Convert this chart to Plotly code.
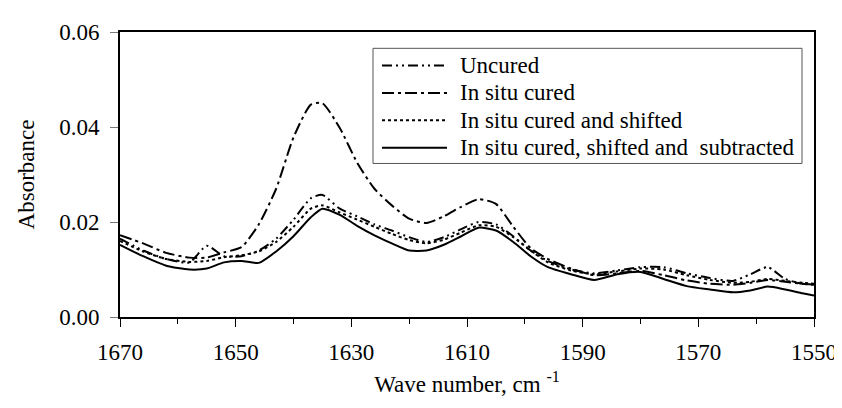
import plotly.graph_objects as go

# wave numbers (cm-1) shared by all spectra
wave_number = [1670, 1666, 1662, 1658, 1655, 1652, 1649, 1646, 1643, 1640,
               1637, 1635, 1632, 1629, 1626, 1623, 1620, 1617, 1614, 1611,
               1608, 1605, 1602, 1599, 1596, 1592, 1588, 1584, 1580, 1576,
               1572, 1568, 1564, 1561, 1558, 1555, 1552, 1550]

uncured = [0.0165, 0.0140, 0.0122, 0.0115, 0.0150, 0.0128, 0.0128, 0.0140, 0.0165, 0.0205,
           0.0250, 0.0257, 0.0228, 0.0212, 0.0195, 0.0182, 0.0168, 0.0158, 0.0168, 0.0185,
           0.0200, 0.0195, 0.0170, 0.0140, 0.0118, 0.0100, 0.0092, 0.0098, 0.0105, 0.0105,
           0.0092, 0.0082, 0.0076, 0.0090, 0.0105, 0.0080, 0.0070, 0.0068]

in_situ_cured = [0.0172, 0.0155, 0.0135, 0.0125, 0.0125, 0.0136, 0.0147, 0.0195, 0.0270, 0.0378,
                 0.0447, 0.0450, 0.0398, 0.0325, 0.0270, 0.0235, 0.0207, 0.0198, 0.0212, 0.0232,
                 0.0248, 0.0238, 0.0190, 0.0145, 0.0122, 0.0102, 0.0088, 0.0092, 0.0097, 0.0088,
                 0.0077, 0.0070, 0.0068, 0.0072, 0.0078, 0.0074, 0.0070, 0.0068]

cured_shifted = [0.0160, 0.0138, 0.0122, 0.0116, 0.0118, 0.0126, 0.0130, 0.0138, 0.0158, 0.0190,
                 0.0228, 0.0235, 0.0220, 0.0205, 0.0190, 0.0175, 0.0162, 0.0155, 0.0163, 0.0178,
                 0.0193, 0.0190, 0.0168, 0.0140, 0.0115, 0.0098, 0.0090, 0.0096, 0.0102, 0.0100,
                 0.0088, 0.0078, 0.0072, 0.0074, 0.0080, 0.0076, 0.0072, 0.0070]

cured_shifted_subtracted = [0.0152, 0.0128, 0.0108, 0.0100, 0.0102, 0.0115, 0.0118, 0.0114, 0.0138, 0.0170,
                            0.0210, 0.0228, 0.0215, 0.0192, 0.0172, 0.0155, 0.0140, 0.0140, 0.0152, 0.0170,
                            0.0188, 0.0182, 0.0158, 0.0128, 0.0105, 0.0090, 0.0078, 0.0090, 0.0095, 0.0080,
                            0.0065, 0.0058, 0.0052, 0.0056, 0.0064, 0.0058, 0.0050, 0.0045]

series_names = ['Uncured', 'In situ cured', 'In situ cured and shifted',
                'In situ cured, shifted and  subtracted']
series_values = [uncured, in_situ_cured, cured_shifted, cured_shifted_subtracted]
dashes = ['10px,4px,2px,4px,2px,4px', '12px,4px,3px,4px', '3px,3px', 'solid']

FONT = 'Liberation Serif, Times New Roman, serif'

# plot area in page pixels (body keeps its default 8px margin)
PX0, PX1, PY0, PY1 = 120, 814, 20, 317


def paper_x(px):
    return (px - PX0) / (PX1 - PX0)


def paper_y(py):
    return (PY1 - py) / (PY1 - PY0)


fig = go.Figure()
for name, vals, dash in zip(series_names, series_values, dashes):
    fig.add_trace(go.Scatter(
        x=wave_number, y=vals, name=name, mode='lines', showlegend=False,
        line=dict(color='black', width=2, dash=dash, shape='spline', smoothing=0.6),
    ))

# legend drawn by hand so that the sample lines and row spacing match
shapes = [dict(type='rect', xref='paper', yref='paper', layer='above',
               x0=paper_x(373), x1=paper_x(802), y0=paper_y(157), y1=paper_y(37),
               line=dict(color='#555', width=1), fillcolor='white')]
annotations = []
for i, (name, dash) in enumerate(zip(series_names, dashes)):
    row_y = paper_y(55 + i * 28.5)
    shapes.append(dict(type='line', xref='paper', yref='paper', layer='above',
                       x0=paper_x(382), x1=paper_x(447), y0=row_y, y1=row_y,
                       line=dict(color='black', width=2, dash=dash)))
    annotations.append(dict(text=name, xref='paper', yref='paper', showarrow=False,
                            x=paper_x(458), y=row_y, xanchor='left', yanchor='middle',
                            font=dict(family=FONT, size=23, color='black')))

fig.update_layout(
    width=842, height=408,
    margin=dict(l=PX0 - 8, r=842 - PX1 + 8, t=PY0 - 8, b=408 - PY1 + 8),
    plot_bgcolor='white', paper_bgcolor='white',
    font=dict(family=FONT, size=23, color='black'),
    shapes=shapes, annotations=annotations,
)

fig.update_xaxes(
    range=[1670, 1550], dtick=20, tick0=1550,
    showline=True, linecolor='black', linewidth=2, mirror=True,
    ticks='outside', ticklen=8, tickcolor='black', tickwidth=1,
    ticklabelstandoff=5,
    minor=dict(dtick=10, ticks='outside', ticklen=5, tickcolor='black'),
    showgrid=False, zeroline=False,
    title=dict(text='Wave number, cm <sup>-1</sup>', font=dict(family=FONT, size=23), standoff=12),
)
fig.update_yaxes(
    range=[0, 0.06], dtick=0.02, tickformat='.2f',
    showline=True, linecolor='black', linewidth=2, mirror=True,
    ticks='outside', ticklen=8, tickcolor='#777', tickwidth=1,
    ticklabelstandoff=6,
    showgrid=False, zeroline=False,
    title=dict(text='Absorbance', font=dict(family=FONT, size=23), standoff=18),
)

fig.write_html('out.html')
